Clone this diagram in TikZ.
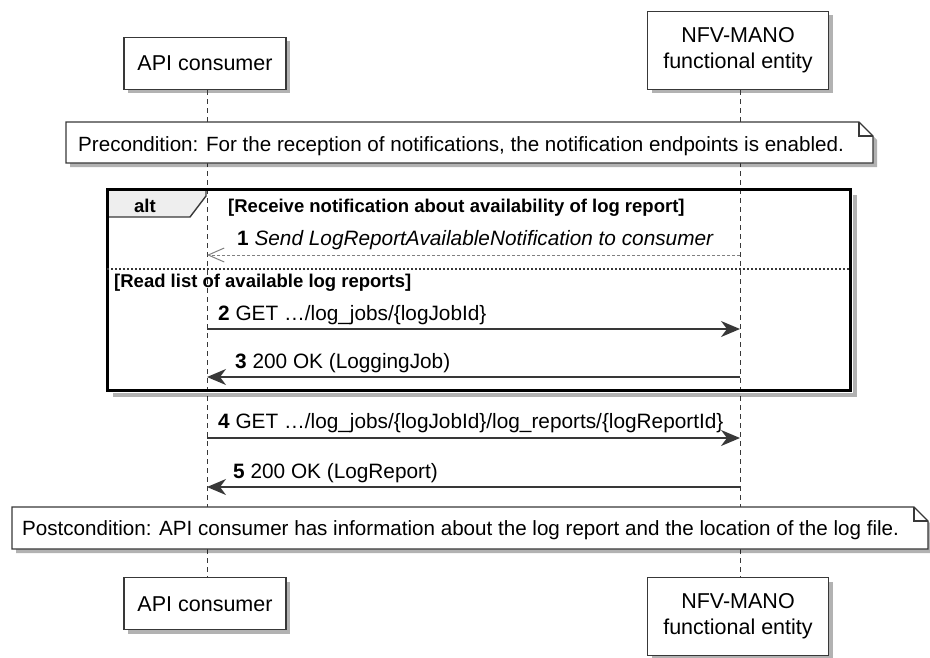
\documentclass[tikz,border=0pt]{standalone}
\usepackage{fontspec}
\setmainfont{Liberation Sans}
\usetikzlibrary{arrows.meta,shadows}
\definecolor{linegray}{HTML}{383838}
\definecolor{tabgray}{HTML}{EEEEEE}
\tikzset{
  shade/.style={drop shadow={shadow xshift=4pt,shadow yshift=-4pt,opacity=.3,fill=black}},
  box/.style={draw=linegray,line width=1.4pt,fill=white,align=center,inner sep=0pt,
    font=\fontsize{21.5}{26}\selectfont,shade},
  note/.style={draw=linegray,line width=1.4pt,fill=white,shade},
  life/.style={draw=linegray,line width=1pt,dash pattern=on 5pt off 4pt},
  msg/.style={draw=linegray,line width=1.3pt,-{Stealth[length=19pt,width=16pt,inset=6pt]}},
  reply/.style={draw=gray,line width=1pt,dash pattern=on 3pt off 2pt,
    -{Straight Barb[length=16pt,width=14pt]}},
  lab/.style={anchor=base west,inner sep=0pt,font=\fontsize{20.8}{24}\selectfont},
  guard/.style={anchor=base west,inner sep=0pt,font=\fontsize{18.5}{22}\selectfont\bfseries},
  notetext/.style={anchor=base west,inner sep=0pt,font=\fontsize{20.6}{24}\selectfont}
}
\begin{document}
\begin{tikzpicture}[x=1pt,y=-1pt]
\useasboundingbox (0,0) rectangle (930,657);
\node[box,minimum width=162pt,minimum height=52pt,anchor=south] (apiTop) at (205,90) {API consumer};
\node[box,minimum width=181pt,minimum height=78pt,anchor=south] (nfvTop) at (738,90) {NFV-MANO\\functional entity};
\node[box,minimum width=162pt,minimum height=52pt,anchor=north] (apiBot) at (205,577) {API consumer};
\node[box,minimum width=181pt,minimum height=78pt,anchor=north] (nfvBot) at (738,577) {NFV-MANO\\functional entity};
\coordinate (apiL) at (207,90);
\coordinate (apiE) at (207,577);
\coordinate (nfvL) at (740,90);
\coordinate (nfvE) at (740,577);
\draw[life] (apiL) -- (apiE);
\draw[life] (nfvL) -- (nfvE);

\path[note] (66,122) -- (859,122) -- (873,136) -- (873,163) -- (66,163) -- cycle;
\draw[linegray,line width=1.2pt] (859,122) -- (859,136) -- (873,136);
\node[notetext] (pre) at (78,151) {Precondition: For the reception of notifications, the notification endpoints is enabled.};

\coordinate[] (fTL) at (107,189);
\coordinate[] (fTR) at (850,189);
\coordinate[] (fBR) at (850,390);
\coordinate[] (fBL) at (107,390);
\draw[black,opacity=.3,line width=4pt] ([shift={(5,6)}]fTR) -- ([shift={(5,5)}]fBR) -- ([shift={(6,5)}]fBL);
\draw[linegray,line width=1.4pt,fill=tabgray] (fTL) -- (206,189) -- (206,196) -- (190,217) -- (107,217) -- cycle;
\draw[black,line width=3pt] (fTL) -- (fTR) -- (fBR) -- (fBL) -- cycle;
\draw[linegray,line width=1.2pt,dash pattern=on 2pt off 2pt] (107,269) -- (850,269);
\node[guard,anchor=base] (alt) at (145,212) {alt};
\node[guard] (g1) at (228,212) {[Receive notification about availability of log report]};
\node[guard] (g2) at (114,287) {[Read list of available log reports]};

\foreach \Num/\Y in {1/255,2/329,3/377,4/438,5/487} {
  \coordinate (a\Num) at (207,\Y);
  \coordinate (n\Num) at (740,\Y);
}
\draw[reply] (n1) -- (a1);
\draw[msg] (a2) -- (n2);
\draw[msg] (n3) -- (a3);
\draw[msg] (a4) -- (n4);
\draw[msg] (n5) -- (a5);
\node[lab] (t1) at (237,245) {\textbf{1} \textit{Send LogReportAvailableNotification to consumer}};
\node[lab] (t2) at (218,320) {\textbf{2} GET …/log\_jobs/\{logJobId\}};
\node[lab] (t3) at (235,368) {\textbf{3} 200 OK (LoggingJob)};
\node[lab] (t4) at (218,428) {\textbf{4} GET …/log\_jobs/\{logJobId\}/log\_reports/\{logReportId\}};
\node[lab] (t5) at (233,478) {\textbf{5} 200 OK (LogReport)};

\path[note] (12,507) -- (914,507) -- (928,521) -- (928,549) -- (12,549) -- cycle;
\draw[linegray,line width=1.2pt] (914,507) -- (914,521) -- (928,521);
\node[notetext] (post) at (22,535) {Postcondition: API consumer has information about the log report and the location of the log file.};
\end{tikzpicture}
\end{document}
